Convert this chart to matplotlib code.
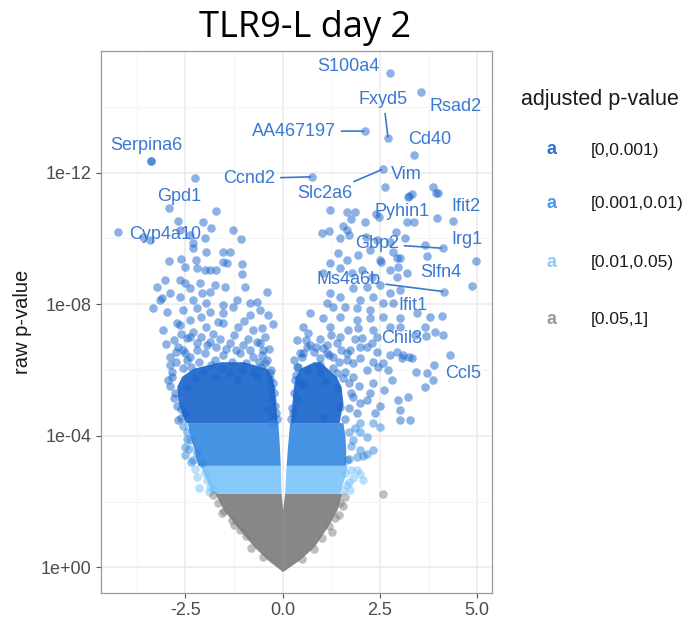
import numpy as np
import matplotlib
matplotlib.use("Agg")
import matplotlib.pyplot as plt

plt.rcParams['font.family'] = ['Liberation Sans', 'DejaVu Sans']

# --- labelled genes: point (log2FC, -log10 p) and label position
genes = ['S100a4', 'Rsad2', 'Fxyd5', 'AA467197', 'Cd40', 'Vim', 'Slc2a6', 'Ccnd2',
         'Serpina6', 'Gpd1', 'Cyp4a10', 'Pyhin1', 'Ifit2', 'Gbp2', 'Irg1', 'Slfn4',
         'Ms4a6b', 'Ifit1', 'Chil3', 'Ccl5']
gene_x = [2.75, 3.56, 2.71, 2.12, 3.38, 2.63, 2.57, 0.75, -3.39, -2.93, -4.23, 2.40,
          4.39, 4.11, 4.96, 4.86, 4.15, 2.83, 2.43, 3.90]
gene_y = [15.02, 14.44, 13.04, 13.26, 12.52, 11.55, 12.10, 11.87, 12.34, 10.93, 10.19,
          10.74, 10.54, 9.70, 9.32, 8.56, 8.38, 8.02, 6.99, 6.15]
lab_x = [1.69, 4.45, 2.59, 0.29, 3.79, 3.19, 1.09, -0.86, -3.50, -2.66, -3.03, 3.06,
         4.71, 2.42, 4.73, 4.06, 1.69, 3.36, 3.06, 4.63]
lab_y = [15.22, 14.00, 14.22, 13.26, 13.01, 11.95, 11.35, 11.82, 12.81, 11.26, 10.13,
         10.83, 10.96, 9.83, 9.95, 8.95, 8.75, 7.97, 6.96, 5.90]
with_segment = ['Fxyd5', 'AA467197', 'Slc2a6', 'Ccnd2', 'Gbp2', 'Ms4a6b']

# --- scattered (non dense) points
pts_x = [-3.39, -2.26, -1.71, -2.69, -2.04, -1.85, -1.27, -1.08, -2.64, -2.00, -2.30,
         -3.41, -3.58, -2.38, -1.96, -2.92, -2.51, -2.21, -1.87, -1.53, -2.60, -2.30,
         -2.23, -1.53, -1.36, -1.05, -1.05, -2.00, -1.70, -1.44, -3.03, -2.64, -3.24,
         -2.38, -2.08, -3.11, -2.90, -2.51, -2.13, -1.87, -1.74, -1.48, -0.97, -0.41,
         -3.15, -2.64, -2.30, -1.96, -1.53, -1.18, -0.84, -0.67, -3.33, -2.98, -2.56,
         -2.21, -1.87, -1.53, -1.27, -0.84, -0.58, -0.37, -3.07, -2.72, -2.38, -1.96,
         -1.53, -1.14, -0.76, -0.54, -2.64, -2.38, -2.56, -2.68, -2.47, -2.21, -1.87,
         -1.70, -1.36, -1.01, -0.67, -0.50, -2.90, -2.38, -1.99, -1.53, -1.10, -0.76,
         -0.58, -0.54, -2.51, -2.90, -2.85, -2.77, -2.68, -0.33, -0.28, -0.37, -0.24,
         -2.47, -2.51, -0.33, -0.28,
         -2.47, -2.38, -2.51, -2.21, -2.30, -2.08, -1.95, -1.87, -2.00,
         -1.57, -1.31, -1.10, 1.34, 1.26, 1.47,
         3.23, 3.87, 3.93, 4.00, 3.25, 3.32, 1.23, 1.66, 1.86, 1.76, 2.12, 2.48, 2.91,
         3.19, 3.38, 3.96, 1.02, 1.19, 1.54, 1.66, 1.47, 2.14, 3.14, 3.66, 3.70, 3.19,
         2.97, 2.84, 3.02, 2.50, 2.76, 3.46, 3.79, 4.10, 3.66, 3.40, 3.68, 3.92, 4.11,
         2.76, 3.02, 2.93, 3.06, 3.32, 4.30, 3.43, 3.70, 3.87, 3.66, 3.10, 3.25, 3.23,
         2.97, 3.02, 1.71, 2.42, 2.76, 1.43, 1.65, 1.94, 2.24, 2.54, 2.93, 1.47, 1.22,
         1.04, 1.77, 2.03, 2.29, 2.93, 2.50, 2.16, 1.81, 1.22, 1.47, 1.99, 2.33, 2.76,
         3.02, 2.59, 2.24, 1.90, 1.60, 1.30, 1.13, 0.70, 1.04, 1.47, 1.90, 2.24, 2.59,
         3.02, 0.53, 1.22, 1.69, 1.94, 2.33, 0.66, 1.47, 2.03, 0.36, 0.70, 1.04, 1.39,
         1.73, 2.16, 2.42, 2.76, 0.53, 0.96, 1.30, 1.65, 1.99, 2.33, 2.59, 0.62, 0.87,
         1.13, 1.65, 1.99, 2.29, 0.36, 0.44, 0.40, 0.27, 0.96, 1.39, 1.81, 2.16, 2.33,
         2.16, 2.37, 1.81, 1.47, 1.04, 1.99, 2.16, 2.33, 2.07, 1.81, 1.99, 2.16, 1.90,
         1.65, 1.60, 1.82, 2.07, 1.73, 1.65, 2.59, 2.33, 2.50, 3.02, 3.28]
pts_y = [12.34, 11.82, 10.82, 10.54, 10.49, 10.30, 10.24, 9.97, 10.25, 10.00, 9.85,
         9.95, 10.05, 10.10, 9.59, 9.32, 9.14, 9.09, 9.04, 9.29, 9.36, 9.70,
         9.34, 9.59, 9.59, 9.22, 8.93, 9.04, 9.04, 9.24, 8.73, 8.73, 8.51,
         8.48, 8.33, 8.18, 8.33, 8.63, 8.63, 8.38, 8.58, 8.53, 8.53, 8.38,
         8.12, 8.22, 8.12, 8.02, 7.97, 8.12, 8.02, 8.07, 7.87, 7.77, 7.82,
         7.87, 7.77, 7.72, 7.92, 7.67, 7.82, 7.67, 7.21, 7.42, 7.52, 7.31,
         7.42, 7.31, 7.21, 7.26, 7.36, 7.01, 6.60, 6.71, 6.96, 6.81, 6.86,
         6.71, 6.81, 6.76, 6.86, 6.60, 6.40, 6.40, 6.50, 6.45, 6.50, 6.40,
         6.81, 6.45, 6.50, 6.15, 5.79, 5.29, 4.48, 5.74, 5.09, 4.78, 4.38,
         5.49, 4.68, 5.90, 4.58,
         4.12, 3.87, 3.67, 3.47, 3.26, 3.16, 2.65, 2.45, 2.86,
         1.64, 1.44, 1.13, 1.49, 1.08, 1.95,
         11.26, 11.55, 11.37, 11.38, 11.29, 11.35, 10.86, 10.80, 10.80, 10.58, 10.51, 10.66, 10.20,
         10.49, 10.49, 10.61, 10.17, 10.23, 10.38, 10.25, 10.00, 10.05, 10.00, 9.80, 9.46, 8.94,
         9.14, 9.59, 9.39, 9.34, 9.04, 7.72, 7.62, 7.65, 7.31, 7.06, 7.04, 7.16, 7.06,
         7.31, 7.31, 6.55, 6.35, 6.35, 6.45, 5.95, 5.90, 5.69, 5.49, 6.45, 6.40, 5.19,
         5.09, 4.78, 10.10, 9.95, 9.90, 9.54, 9.34, 9.49, 9.65, 9.29, 9.39, 9.09, 9.24,
         8.94, 8.94, 9.04, 8.83, 8.83, 8.58, 8.53, 8.48, 8.33, 8.23, 8.12, 8.23, 8.33,
         8.43, 8.02, 7.82, 7.87, 7.92, 7.92, 8.02, 7.72, 7.57, 7.62, 7.52, 7.57, 7.62,
         7.57, 7.31, 7.31, 7.21, 7.26, 7.21, 7.11, 7.01, 6.96, 6.91, 6.76, 6.66, 6.81,
         6.60, 6.71, 6.55, 6.45, 6.50, 6.35, 6.40, 6.30, 6.35, 6.25, 6.20, 6.71, 6.71,
         6.76, 6.50, 6.71, 6.81, 6.10, 5.59, 5.09, 4.68, 6.15, 5.90, 5.79, 6.00, 5.59,
         5.09, 4.68, 5.19, 4.88, 4.58, 4.38, 3.97, 3.57, 3.37, 3.87, 3.57, 3.46, 3.36,
         3.26, 2.86, 2.71, 2.65, 2.35, 2.50, 2.23, 4.38, 4.27, 4.48, 4.48]

# --- points on the rim of the dense areas
rim_x = [-2.80, -2.60, -2.30, -2.10, -1.80, -1.60, -1.25, -0.90, -0.45, -2.75, -2.20,
         -1.95, -1.45, -1.20, -0.85, -0.35, -2.45, -2.15, -1.75, -1.30, -0.95, -0.60,
         -0.40, -1.65, -1.00, -0.25, -2.10, -3.00,
         -2.60, -2.72, -2.80, -2.90, -2.85, -2.75, -2.60, -2.95, -0.15, -0.20, -0.22,
         -0.25, -0.30, -0.45, -0.18, -0.30,
         0.22, 0.25, 0.30, 0.32, 0.40, 0.50, 1.60, 1.70, 1.75, 1.70, 1.60, 1.45, 1.20,
         1.90, 2.00, 1.95, 2.25, 2.50, 2.60, 2.45, 2.80, 2.70,
         0.45, 0.80, 1.15, 1.50, 0.60, 0.95, 1.25, 1.85, 0.30,
         -2.50, -2.45, -2.55, -2.35, -2.40, 1.70, 1.75, 1.70, 1.85, 2.00,
         -2.15, -2.20, -2.25, -1.90, 1.55, 1.70, 1.75, 1.90, 2.00,
         -1.80, -1.65, -1.50, -1.25, -0.95, -0.80, -0.50, 1.60, 1.55, 1.45, 1.20, 1.00,
         0.80, 0.50,
         -2.55, -2.35, -2.05, -1.85, -1.55, -1.35, -1.05, -0.75, -0.55, -2.25, -1.70,
         -1.15, -0.65, 0.35, 0.65, 0.95, 1.30, 1.55, 0.55, 1.10, 1.40, 1.80]
rim_y = [6.90, 7.10, 7.15, 7.00, 7.10, 6.95, 7.05, 6.95, 7.00, 6.55, 6.60,
         6.75, 6.65, 6.60, 6.60, 6.65, 6.30, 6.25, 6.30, 6.25, 6.20, 6.25,
         6.30, 7.45, 7.50, 7.40, 7.60, 6.80,
         4.55, 4.90, 5.15, 5.50, 5.95, 6.25, 4.80, 5.70, 4.50, 4.90, 5.30,
         5.60, 6.00, 6.20, 4.70, 5.45,
         4.50, 4.85, 5.30, 5.70, 6.10, 6.40, 4.50, 4.85, 5.30, 5.60, 5.95, 6.25, 6.45,
         4.70, 5.00, 5.50, 5.30, 4.90, 5.40, 6.10, 5.70, 6.00,
         6.50, 6.55, 6.50, 6.60, 6.90, 6.95, 7.05, 6.95, 6.30,
         3.40, 3.90, 4.30, 3.20, 3.60, 3.30, 3.70, 4.10, 4.25, 4.10,
         2.40, 2.75, 3.00, 2.30, 2.35, 2.60, 2.95, 2.95, 2.85,
         2.20, 1.95, 1.70, 1.30, 0.95, 0.60, 0.30, 2.15, 1.85, 1.60, 1.25, 0.90,
         0.55, 0.25,
         6.05, 6.10, 5.95, 6.15, 6.05, 5.90, 6.00, 5.95, 6.10, 5.75, 5.80,
         5.70, 5.80, 5.85, 6.00, 5.90, 6.05, 5.75, 5.55, 5.65, 5.45, 6.20]

# --- dense areas: envelopes (y level, left outer, left inner, right inner, right outer)
grey_y = [-0.13, 0.22, 0.63, 1.23, 1.75, 2.25]
grey_lo = [0.0, -0.38, -0.74, -1.17, -1.52, -1.74]
grey_li = [0.0, 0.0, 0.0, 0.0, 0.0, -0.04]
grey_ri = [0.0, 0.0, 0.0, 0.0, 0.0, 0.05]
grey_ro = [0.0, 0.42, 0.81, 1.15, 1.40, 1.52]

light_y = [2.25, 2.7, 3.1]
light_lo = [-1.82, -1.97, -2.12]
light_li = [-0.04, -0.05, -0.06]
light_ri = [0.05, 0.07, 0.09]
light_ro = [1.45, 1.58, 1.66]

mid_y = [3.1, 3.6, 4.0, 4.4]
mid_lo = [-2.18, -2.28, -2.38, -2.45]
mid_li = [-0.06, -0.08, -0.10, -0.12]
mid_ri = [0.09, 0.12, 0.15, 0.18]
mid_ro = [1.62, 1.62, 1.60, 1.55]

dark_y = [4.4, 5.0, 5.5, 5.8, 6.05, 6.25]
dark_lo = [-2.50, -2.68, -2.72, -2.60, -2.30, -1.60]
dark_li = [-0.14, -0.18, -0.22, -0.28, -0.40, -1.00]
dark_ri = [0.20, 0.24, 0.28, 0.33, 0.45, 0.80]
dark_ro = [1.45, 1.55, 1.50, 1.38, 1.15, 0.95]

# adjusted p-value classes and the raw -log10 p where they change
classes = ['[0,0.001)', '[0.001,0.01)', '[0.01,0.05)', '[0.05,1]']
cuts = [4.4, 3.1, 2.25]

col_pts = ['#1a66cc', '#2e86de', '#72c0f8', '#7f7f7f']
col_fill = ['#2e72d0', '#4593e2', '#86c9fa', '#878787']
col_key = ['#3070c8', '#4a9ae6', '#8ccbf8', '#9a9a9a']
lab_col = '#3a78d2'

fig = plt.figure(figsize=(6.89, 6.19), dpi=100)
ax = fig.add_axes([100.5 / 689, 26 / 619, 391.5 / 689, 542.5 / 619])

def band(y, lo, li, ri, ro, c):
    ax.fill_betweenx(y, lo, li, color=c, lw=0, zorder=2)
    ax.fill_betweenx(y, ri, ro, color=c, lw=0, zorder=2)

band(grey_y, grey_lo, grey_li, grey_ri, grey_ro, col_fill[3])
band(light_y, light_lo, light_li, light_ri, light_ro, col_fill[2])
band(mid_y, mid_lo, mid_li, mid_ri, mid_ro, col_fill[1])
band(dark_y, dark_lo, dark_li, dark_ri, dark_ro, col_fill[0])

px = np.array(pts_x + rim_x + gene_x)
py = np.array(pts_y + rim_y + gene_y)
cls = np.where(py >= cuts[0], 0, np.where(py >= cuts[1], 1, np.where(py >= cuts[2], 2, 3)))
for k in range(4):
    m = cls == k
    ax.scatter(px[m], py[m], s=38, color=col_pts[k], alpha=0.5, lw=0, zorder=3)

for i, g in enumerate(genes):
    if g in with_segment:
        ax.annotate(g, xy=(gene_x[i], gene_y[i]), xytext=(lab_x[i], lab_y[i]),
                    ha='center', va='center', fontsize=13, color=lab_col, zorder=5,
                    arrowprops=dict(arrowstyle='-', color=lab_col, lw=1.2,
                                    shrinkA=2, shrinkB=1))
    else:
        ax.text(lab_x[i], lab_y[i], g, ha='center', va='center', fontsize=13,
                color=lab_col, zorder=5)

ax.set_xlim(-4.68, 5.38)
ax.set_ylim(-0.78, 15.71)
ax.set_xticks([-2.5, 0, 2.5, 5.0])
ax.set_xticklabels(['-2.5', '0.0', '2.5', '5.0'])
ax.set_xticks([-3.75, -1.25, 1.25, 3.75], minor=True)
ax.set_yticks([0, 4, 8, 12])
ax.set_yticklabels(['1e+00', '1e-04', '1e-08', '1e-12'])
ax.set_yticks([2, 6, 10, 14], minor=True)
ax.grid(which='major', color='#ebebeb', lw=1.1, zorder=0)
ax.grid(which='minor', color='#f3f3f3', lw=0.6, zorder=0)
ax.set_axisbelow(True)
ax.tick_params(which='major', length=3.5, width=0.8, color='#555555',
               labelsize=13, labelcolor='#4d4d4d', pad=3)
ax.tick_params(which='minor', length=0)
for s in ax.spines.values():
    s.set_color('#9a9a9a')
    s.set_linewidth(0.9)
ax.set_ylabel('raw p-value', fontsize=14.5, color='#1a1a1a', labelpad=6)

fig.text(305 / 689, 1 - 28 / 619, 'TLR9-L day 2', family='Open Sans', fontsize=26,
         ha='center', va='center', color='black')

# legend
fig.text(520.7 / 689, 1 - 100 / 619, 'adjusted p-value', fontsize=15.5,
         ha='left', va='center', color='#1a1a1a')
rows = [150, 204, 262.7, 319]
for k in range(4):
    fig.text(551.7 / 689, 1 - rows[k] / 619, 'a', fontsize=13, fontweight='bold',
             ha='center', va='center', color=col_key[k])
    fig.text(591 / 689, 1 - rows[k] / 619, classes[k], fontsize=12.5,
             ha='left', va='center', color='#1a1a1a')

fig.savefig('out.png', dpi=100)
